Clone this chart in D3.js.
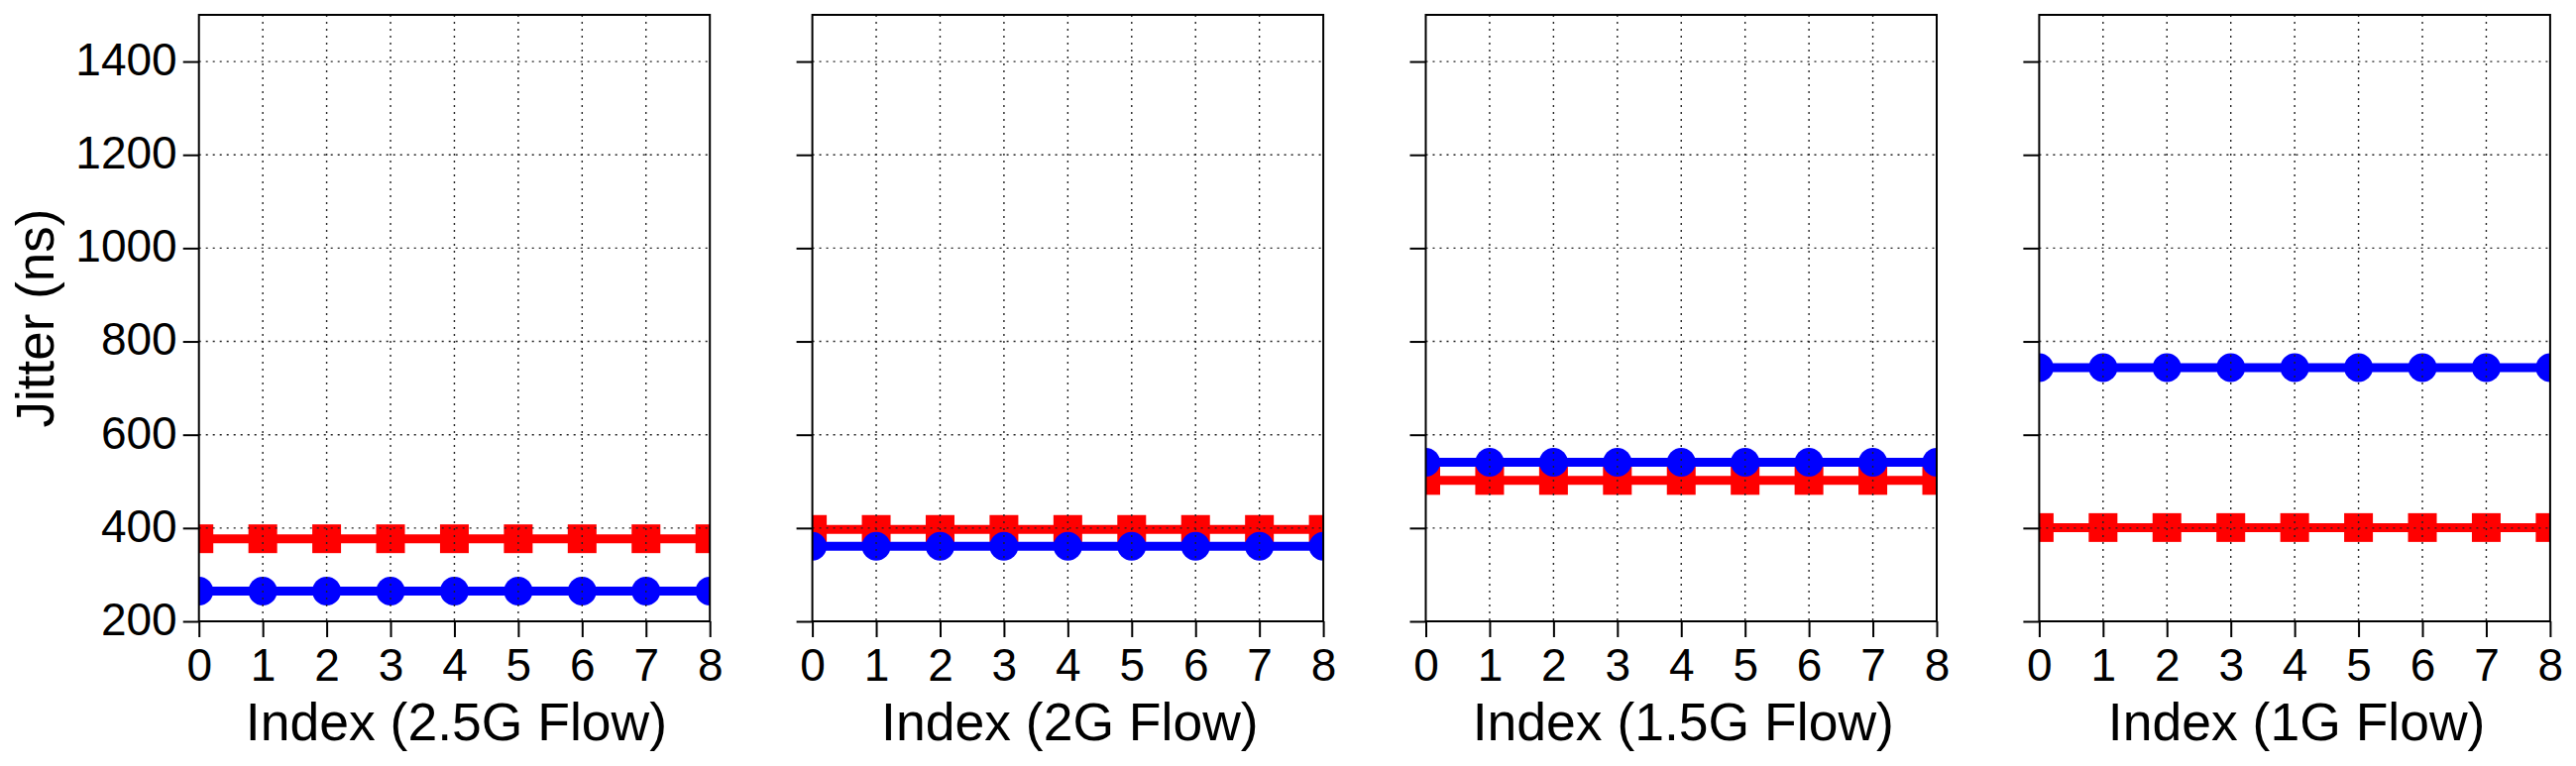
<!DOCTYPE html>
<html>
<head>
<meta charset="utf-8">
<script src="https://cdn.jsdelivr.net/npm/d3@7"></script>
<style>
  html, body { margin: 0; padding: 0; background: #fff; }
  svg { display: block; }
  text { font-family: "Liberation Sans", Arial, Helvetica, sans-serif; fill: #000; }
</style>
</head>
<body>
<svg id="chart" width="2599" height="773"></svg>
<script>
// ---------------- data ----------------
const indices = [0, 1, 2, 3, 4, 5, 6, 7, 8];
const xTicks = [0, 1, 2, 3, 4, 5, 6, 7, 8];
const yTicks = [200, 400, 600, 800, 1000, 1200, 1400];
const yDomain = [200, 1500];
const xDomain = [0, 8];
const panelTitles = ["Index (2.5G Flow)", "Index (2G Flow)", "Index (1.5G Flow)", "Index (1G Flow)"];
const yTitle = "Jitter (ns)";

// red squares series, one array per panel
const redFlow25G = [377, 377, 377, 377, 377, 377, 377, 377, 377];
const redFlow2G  = [397, 397, 397, 397, 397, 397, 397, 397, 397];
const redFlow15G = [502, 502, 502, 502, 502, 502, 502, 502, 502];
const redFlow1G  = [401, 401, 401, 401, 401, 401, 401, 401, 401];
// blue circles series, one array per panel
const blueFlow25G = [265, 265, 265, 265, 265, 265, 265, 265, 265];
const blueFlow2G  = [361, 361, 361, 361, 361, 361, 361, 361, 361];
const blueFlow15G = [541, 541, 541, 541, 541, 541, 541, 541, 541];
const blueFlow1G  = [744, 744, 744, 744, 744, 744, 744, 744, 744];

const redSeries = [redFlow25G, redFlow2G, redFlow15G, redFlow1G];
const blueSeries = [blueFlow25G, blueFlow2G, blueFlow15G, blueFlow1G];

// ---------------- layout ----------------
const panelLeft0 = 200.7;
const panelStep = 618.9;
const panelW = 515.5;
const panelTop = 15;
const panelH = 612;
const tickLen = 16;
const RED = "#ff0000", BLUE = "#0000ff";

const svg = d3.select("#chart");

const x = d3.scaleLinear().domain(xDomain).range([0, panelW]);
const y = d3.scaleLinear().domain(yDomain).range([panelH, 0]);

panelTitles.forEach((title, p) => {
  const g = svg.append("g")
    .attr("transform", `translate(${panelLeft0 + p * panelStep},${panelTop})`);

  const clipId = "clip" + p;
  g.append("clipPath").attr("id", clipId)
    .append("rect").attr("x", 0).attr("y", 0).attr("width", panelW).attr("height", panelH);

  const data = g.append("g").attr("clip-path", `url(#${clipId})`);

  const line = d3.line().x((d, i) => x(indices[i])).y(d => y(d));

  // red series (squares) first
  data.append("path").datum(redSeries[p])
    .attr("d", line).attr("fill", "none")
    .attr("stroke", RED).attr("stroke-width", 9);
  const sq = 29;
  data.selectAll(".sq").data(redSeries[p]).join("rect")
    .attr("class", "sq")
    .attr("x", (d, i) => x(indices[i]) - sq / 2)
    .attr("y", d => y(d) - sq / 2)
    .attr("width", sq).attr("height", sq)
    .attr("fill", RED);

  // blue series (circles) on top
  data.append("path").datum(blueSeries[p])
    .attr("d", line).attr("fill", "none")
    .attr("stroke", BLUE).attr("stroke-width", 9);
  data.selectAll(".ci").data(blueSeries[p]).join("circle")
    .attr("class", "ci")
    .attr("cx", (d, i) => x(indices[i]))
    .attr("cy", d => y(d))
    .attr("r", 14.5)
    .attr("fill", BLUE);

  // grid (drawn in front of data)
  const grid = g.append("g").attr("stroke", "#222").attr("stroke-width", 1.4)
    .attr("stroke-dasharray", "2,5");
  grid.selectAll(".vg").data(xTicks.filter(t => t > xDomain[0] && t < xDomain[1])).join("line")
    .attr("x1", d => x(d)).attr("x2", d => x(d))
    .attr("y1", 0).attr("y2", panelH);
  grid.selectAll(".hg").data(yTicks.filter(t => t > yDomain[0])).join("line")
    .attr("x1", 0).attr("x2", panelW)
    .attr("y1", d => y(d)).attr("y2", d => y(d));

  // frame
  g.append("rect").attr("x", 0).attr("y", 0).attr("width", panelW).attr("height", panelH)
    .attr("fill", "none").attr("stroke", "#000").attr("stroke-width", 2);

  // left axis
  const yAxis = d3.axisLeft(y).tickValues(yTicks).tickSize(tickLen).tickPadding(6)
    .tickFormat(p === 0 ? d3.format("d") : () => "");
  const ya = g.append("g").call(yAxis);
  ya.select(".domain").remove();
  ya.selectAll(".tick line").attr("stroke", "#000").attr("stroke-width", 2);
  ya.selectAll(".tick text").attr("font-size", 46)
    .attr("font-family", '"Liberation Sans", Arial, Helvetica, sans-serif')
    .attr("dy", "0.29em").attr("fill", "#000");

  // bottom axis
  const xAxis = d3.axisBottom(x).tickValues(xTicks).tickSize(tickLen).tickPadding(11)
    .tickFormat(d3.format("d"));
  const xa = g.append("g").attr("transform", `translate(0,${panelH})`).call(xAxis);
  xa.select(".domain").remove();
  xa.selectAll(".tick line").attr("stroke", "#000").attr("stroke-width", 2);
  xa.selectAll(".tick text").attr("font-size", 46)
    .attr("font-family", '"Liberation Sans", Arial, Helvetica, sans-serif')
    .attr("fill", "#000");

  // x title
  g.append("text")
    .attr("x", panelW / 2 + 2).attr("y", 746.7 - panelTop)
    .attr("text-anchor", "middle")
    .attr("font-size", 53.5)
    .text(title);
});

// y title
svg.append("text")
  .attr("transform", `translate(54,${panelTop + panelH / 2}) rotate(-90)`)
  .attr("text-anchor", "middle")
  .attr("font-size", 53)
  .text(yTitle);
</script>
</body>
</html>
